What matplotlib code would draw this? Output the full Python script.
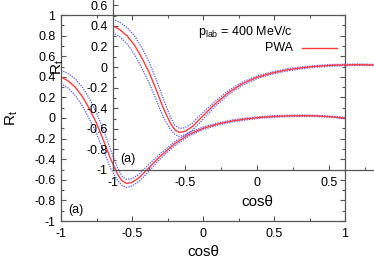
import matplotlib
matplotlib.use("Agg")
import matplotlib.pyplot as plt
from matplotlib.ticker import MultipleLocator, FuncFormatter

plt.rcParams['font.family'] = ['Liberation Sans', 'DejaVu Sans']
plt.rcParams['mathtext.fontset'] = 'custom'
plt.rcParams['mathtext.rm'] = 'Liberation Sans'
plt.rcParams['mathtext.it'] = 'Liberation Sans'

# ---- data ----
cos_theta = [-1.0, -0.95, -0.9, -0.85, -0.8, -0.75, -0.7, -0.65, -0.6, -0.57,
             -0.54, -0.5, -0.45, -0.4, -0.35, -0.3, -0.25, -0.2, -0.1, 0.0,
             0.1, 0.2, 0.3, 0.4, 0.5, 0.6, 0.7, 0.8, 0.9, 1.0]
r_pwa = [0.40, 0.36, 0.30, 0.21, 0.09, -0.05, -0.22, -0.40, -0.55, -0.61,
         -0.635, -0.625, -0.58, -0.51, -0.44, -0.37, -0.31, -0.25, -0.16, -0.10,
         -0.06, -0.03, -0.01, 0.005, 0.015, 0.02, 0.022, 0.02, 0.012, 0.0]
r_err = [0.065, 0.07, 0.08, 0.09, 0.10, 0.10, 0.10, 0.09, 0.06, 0.045,
         0.04, 0.035, 0.035, 0.035, 0.03, 0.025, 0.022, 0.02, 0.016, 0.013,
         0.011, 0.01, 0.009, 0.008, 0.008, 0.007, 0.007, 0.006, 0.006, 0.006]
r_upper = [r + e for r, e in zip(r_pwa, r_err)]
r_lower = [r - e for r, e in zip(r_pwa, r_err)]

x_ticks = [-1, -0.5, 0, 0.5, 1]
y_ticks = [-1, -0.8, -0.6, -0.4, -0.2, 0, 0.2, 0.4, 0.6, 0.8, 1]

legend_title = r'$\mathregular{p_{lab}}$ = 400 MeV/c'
series_label = 'PWA'
panel_label = '(a)'

fig = plt.figure(figsize=(3.74, 2.62), dpi=100)
fig.patch.set_facecolor('white')

fmt = FuncFormatter(lambda v, p: ('%g' % round(v, 3)) if abs(v) > 1e-9 else '0')

spine_col = '#555555'

def style(ax):
    ax.patch.set_visible(False)
    ax.set_xlim(-1, 1)
    ax.set_ylim(-1, 1)
    ax.set_xticks(x_ticks)
    ax.set_yticks(y_ticks)
    ax.xaxis.set_minor_locator(MultipleLocator(0.25))
    ax.yaxis.set_minor_locator(MultipleLocator(0.1))
    ax.xaxis.set_major_formatter(fmt)
    ax.yaxis.set_major_formatter(fmt)
    ax.tick_params(which='both', direction='in', top=True, right=True,
                   color=spine_col, width=0.8, labelsize=9, labelcolor='black')
    ax.tick_params(which='major', length=3.5, pad=4)
    ax.tick_params(axis='x', which='major', pad=5)
    ax.tick_params(which='minor', length=2)
    for s in ax.spines.values():
        s.set_color(spine_col)
        s.set_linewidth(0.9)
    ax.plot(cos_theta, r_upper, color='#5050ff', lw=0.9, ls=(0, (1, 1)))
    ax.plot(cos_theta, r_lower, color='#5050ff', lw=0.9, ls=(0, (1, 1)))
    ax.plot(cos_theta, r_pwa, color='#ff3a3a', lw=1.0)
    ax.text(-0.95, -0.89, panel_label, fontsize=9, ha='left', va='center')
    ax.set_xlabel('cosθ', fontsize=11, labelpad=4)
    ax.set_ylabel(r'$\mathregular{R_t}$', fontsize=11)

ax1 = fig.add_axes([61/374, 1-221/262, 284/374, 206/262])
style(ax1)
ax1.yaxis.set_label_coords(-0.145, 0.5)

ax2 = fig.add_axes([113/374, 1-170/262, 288/374, 206/262])
style(ax2)
ax2.yaxis.set_label_coords(-0.163, 0.5)

# legend (manual, gnuplot-style key)
ax1.text(0.817, 0.917, legend_title, transform=ax1.transAxes, ha='right',
         va='center', fontsize=9)
ax1.text(0.817, 0.840, series_label, transform=ax1.transAxes, ha='right',
         va='center', fontsize=9)
ax1.plot([0.849, 0.972], [0.840, 0.840], transform=ax1.transAxes,
         color='#ff3a3a', lw=1.0, clip_on=False)

fig.savefig('out.png', dpi=100)
